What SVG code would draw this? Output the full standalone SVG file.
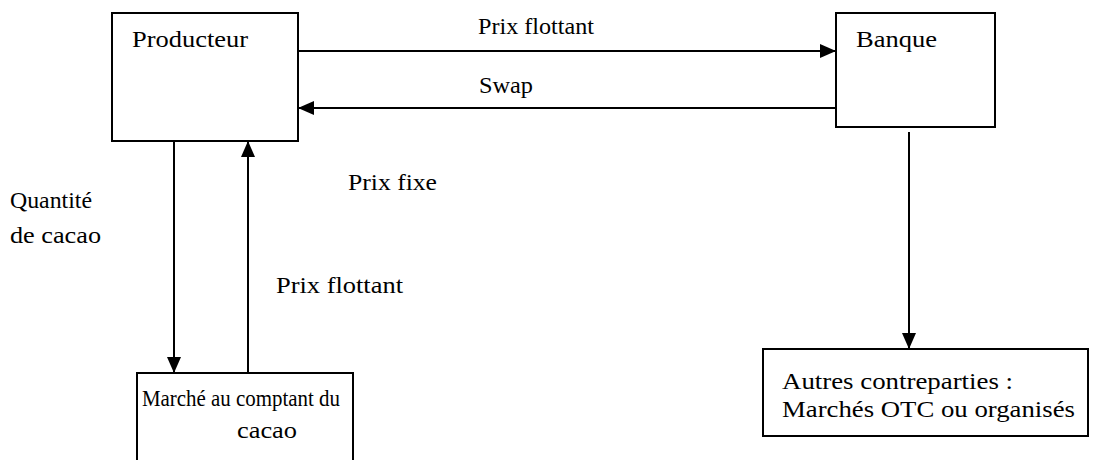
<svg xmlns="http://www.w3.org/2000/svg" width="1107" height="460" viewBox="0 0 1107 460">
<style>
.box{fill:#fff;stroke:#000;stroke-width:2}
.ln{stroke:#000;stroke-width:2;fill:none}
.t{font-family:'Liberation Serif','DejaVu Serif','Times New Roman',serif;font-size:24px;fill:#000}
</style>
<defs>
<marker id="ah" viewBox="0 0 16 14" refX="16" refY="7" markerWidth="16" markerHeight="14" markerUnits="userSpaceOnUse" orient="auto">
<path d="M0,0 L16,7 L0,14 Z" fill="#000"/>
</marker>
</defs>
<rect width="1107" height="460" fill="#fff"/>
<g id="producteur">
<rect class="box" x="112" y="13" width="186" height="128"/>
<text class="t" x="132" y="47" textLength="116" lengthAdjust="spacingAndGlyphs">Producteur</text>
</g>
<g id="banque">
<rect class="box" x="836" y="13" width="159" height="114"/>
<text class="t" x="856" y="47" textLength="81" lengthAdjust="spacingAndGlyphs">Banque</text>
</g>
<g id="marche">
<rect class="box" x="137" y="373" width="216" height="92"/>
<text class="t" x="142" y="406" textLength="198" lengthAdjust="spacingAndGlyphs">Marché au comptant du</text>
<text class="t" x="237" y="438" textLength="60" lengthAdjust="spacingAndGlyphs">cacao</text>
</g>
<g id="autres">
<rect class="box" x="763" y="349" width="325" height="87"/>
<text class="t" x="782" y="389" textLength="231" lengthAdjust="spacingAndGlyphs">Autres contreparties :</text>
<text class="t" x="782" y="417" textLength="293" lengthAdjust="spacingAndGlyphs">Marchés OTC ou organisés</text>
</g>
<g id="connectors">
<line class="ln" x1="298" y1="51" x2="836" y2="51" marker-end="url(#ah)"/>
<line class="ln" x1="836" y1="108" x2="298" y2="108" marker-end="url(#ah)"/>
<line class="ln" x1="174" y1="141" x2="174" y2="373" marker-end="url(#ah)"/>
<line class="ln" x1="248" y1="373" x2="248" y2="141" marker-end="url(#ah)"/>
<line class="ln" x1="909" y1="132" x2="909" y2="349" marker-end="url(#ah)"/>
</g>
<g id="labels">
<text class="t" x="478" y="34" textLength="116" lengthAdjust="spacingAndGlyphs">Prix flottant</text>
<text class="t" x="479" y="93" textLength="54" lengthAdjust="spacingAndGlyphs">Swap</text>
<text class="t" x="348" y="190" textLength="89" lengthAdjust="spacingAndGlyphs">Prix fixe</text>
<text class="t" x="10" y="208" textLength="82" lengthAdjust="spacingAndGlyphs">Quantité</text>
<text class="t" x="10" y="243" textLength="91" lengthAdjust="spacingAndGlyphs">de cacao</text>
<text class="t" x="276" y="293" textLength="127" lengthAdjust="spacingAndGlyphs">Prix flottant</text>
</g>
</svg>
